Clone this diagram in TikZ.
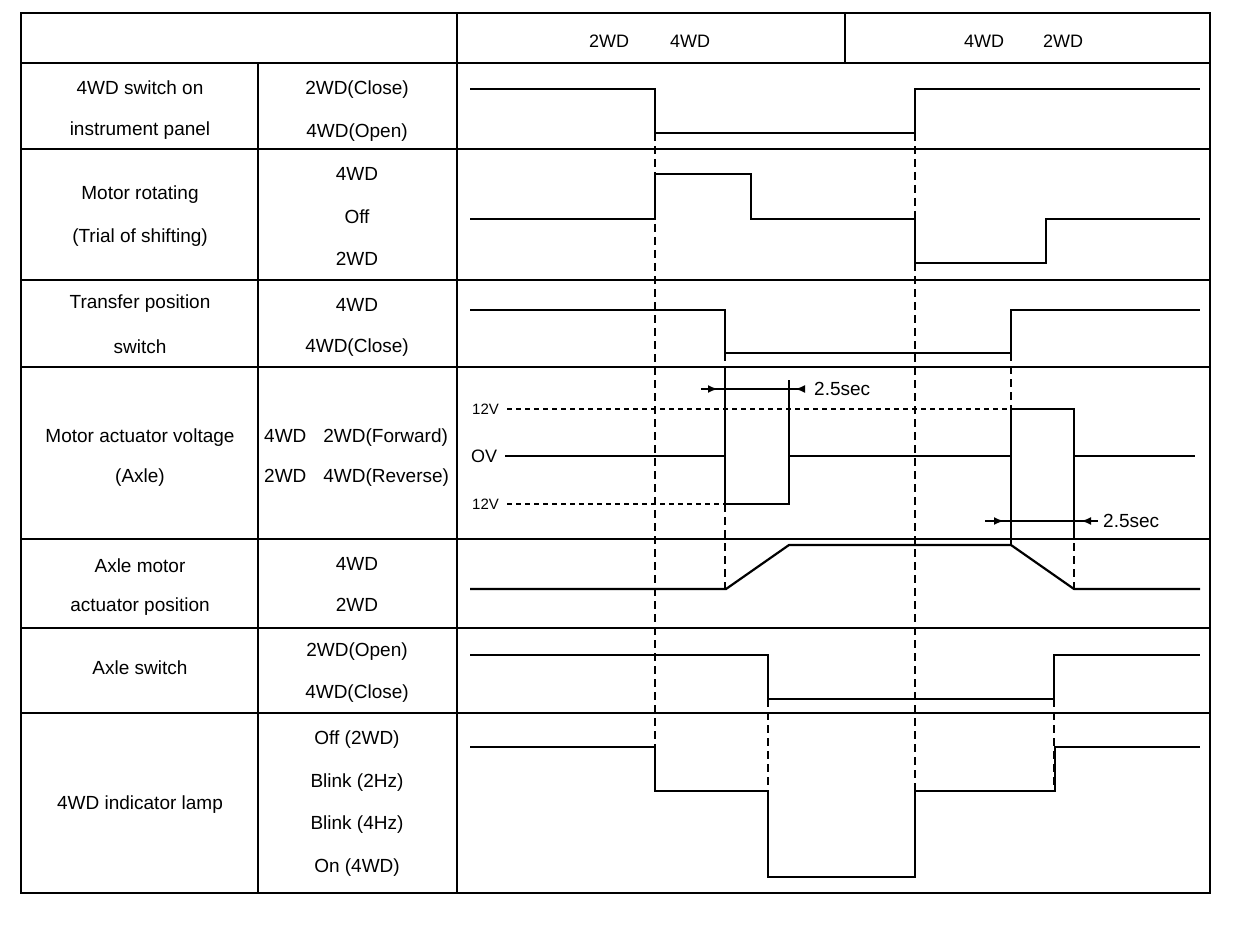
\documentclass[tikz,border=0pt]{standalone}
\usepackage{fontspec}
\setmainfont{Liberation Sans}
\usetikzlibrary{arrows.meta}

\begin{document}
\begin{tikzpicture}[x=1pt, y=-1pt,
		frame/.style={line width=2.8pt},
		grid/.style={line width=1.8pt},
		sig/.style={line width=2.2pt, line join=miter},
		guide/.style={line width=1.8pt, dash pattern=on 8pt off 5pt},
		lvl/.style={line width=1.6pt, dash pattern=on 5pt off 4pt},
		edgeln/.style={line width=1.4pt},
		lbl/.style={font=\fontsize{19}{22}\selectfont, inner sep=0pt},
		hdr/.style={font=\fontsize{18}{21}\selectfont, inner sep=0pt},
		volt/.style={font=\fontsize{15}{17}\selectfont, inner sep=0pt, anchor=west},
		dimln/.style={line width=2.8pt},
		dimtip/.style={line width=2.8pt, -{Latex[length=10pt, width=8pt]}}
		]
		\useasboundingbox (0,0) rectangle (1248,944);
		
		% Table frame
		\draw[frame] (21,13) rectangle (1210,893);
		\foreach \y in {63,149,280,367,539,628,713}
			\draw[frame] (21,\y) -- (1210,\y);
		\draw[grid] (258,63) -- (258,893);
		\draw[frame] (457,13) -- (457,893);
		\draw[grid] (845,13) -- (845,63);
		
		% Header
		\node[hdr] (hA) at (609,41) {2WD};
		\node[hdr] (hB) at (690,41) {4WD};
		\node[hdr] (hC) at (984,41) {4WD};
		\node[hdr] (hD) at (1063,41) {2WD};
		
		% Row titles
		\node[lbl] (swA) at (140,88) {4WD switch on};
		\node[lbl] (swB) at (140,131) {instrument panel};
		\node[lbl] (motA) at (140,195) {Motor rotating};
		\node[lbl] (motB) at (140,238) {(Trial of shifting)};
		\node[lbl] (trfA) at (140,304) {Transfer position};
		\node[lbl] (trfB) at (140,347) {switch};
		\node[lbl] (actA) at (140,438) {Motor actuator voltage};
		\node[lbl] (actB) at (140,478) {(Axle)};
		\node[lbl] (posA) at (140,566) {Axle motor};
		\node[lbl] (posB) at (140,607) {actuator position};
		\node[lbl] (axl) at (140,668) {Axle switch};
		\node[lbl] (lamp) at (140,805) {4WD indicator lamp};
		
		% States
		\node[lbl] (swC) at (357,90) {2WD(Close)};
		\node[lbl] (swO) at (357,133) {4WD(Open)};
		\node[lbl] (mot4) at (357,174) {4WD};
		\node[lbl] (motO) at (357,217) {Off};
		\node[lbl] (mot2) at (357,259) {2WD};
		\node[lbl] (trf4) at (357,305) {4WD};
		\node[lbl] (trfC) at (357,348) {4WD(Close)};
		\node[lbl, anchor=west] (actF) at (264,438) {4WD\hspace{17pt}2WD(Forward)};
		\node[lbl, anchor=west] (actR) at (264,478) {2WD\hspace{17pt}4WD(Reverse)};
		\node[lbl] (pos4) at (357,564) {4WD};
		\node[lbl] (pos2) at (357,605) {2WD};
		\node[lbl] (axlO) at (357,652) {2WD(Open)};
		\node[lbl] (axlC) at (357,694) {4WD(Close)};
		\node[lbl] (lOff) at (357,740) {Off (2WD)};
		\node[lbl] (lB2) at (357,783) {Blink (2Hz)};
		\node[lbl] (lB4) at (357,825) {Blink (4Hz)};
		\node[lbl] (lOn) at (357,868) {On (4WD)};
		
		% Voltage levels
		\node[volt] (vHi) at (472,409) {12V};
		\node[volt, font=\fontsize{18}{21}\selectfont] (vZero) at (471,456) {OV};
		\node[volt] (vLo) at (472,504) {12V};
		\draw[lvl] (507,409) -- (1011,409);
		\draw[lvl] (507,504) -- (725,504);
		
		% Guide lines
		\draw[guide] (655,133) -- (655,747);
		\draw[guide] (915,133) -- (915,791);
		\draw[guide] (725,353) -- (725,367);
		\draw[guide] (725,504) -- (725,589);
		\draw[guide] (1011,353) -- (1011,409);
		\draw[guide] (1074,530) -- (1074,589);
		\draw[guide] (768,699) -- (768,791);
		\draw[guide] (1054,699) -- (1054,791);
		\draw[edgeln] (725,367) -- (725,504);
		\draw[edgeln] (789,380) -- (789,504);
		\draw[edgeln] (1011,409) -- (1011,545);
		\draw[edgeln] (1074,456) -- (1074,530);
		
		% Signals
		\draw[sig] (470,89) -| (655,133) -| (915,89) -- (1200,89);
		\draw[sig] (470,219) -| (655,174) -| (751,219) -| (915,263) -| (1046,219) -- (1200,219);
		\draw[sig] (470,310) -| (725,353) -| (1011,310) -- (1200,310);
		\draw[sig] (505,456) -| (725,504) -| (789,456) -| (1011,409) -| (1074,456) -- (1195,456);
		\draw[sig] (470,589) -- (726,589) -- (789,545) -- (1011,545) -- (1074,589) -- (1200,589);
		\draw[sig] (470,655) -| (768,699) -| (1054,655) -- (1200,655);
		\draw[sig] (470,747) -| (655,791) -| (768,877) -| (915,791) -| (1055,747) -- (1200,747);
		
		% 2.5 sec spans
		\coordinate (dA1) at (701,389);
		\coordinate (dA2) at (803,389);
		\draw[dimln] (dA1) -- (dA2);
		\draw[dimtip] (dA1) -- (718,389);
		\draw[dimtip] (dA2) -- (795,389);
		\node[lbl, anchor=west] (tA) at (814,389) {2.5sec};
		\coordinate (dB1) at (985,521);
		\coordinate (dB2) at (1098,521);
		\draw[dimln] (dB1) -- (dB2);
		\draw[dimtip] (dB1) -- (1004,521);
		\draw[dimtip] (dB2) -- (1081,521);
		\node[lbl, anchor=west] (tB) at (1103,521) {2.5sec};
		
	\end{tikzpicture}
\end{document}
